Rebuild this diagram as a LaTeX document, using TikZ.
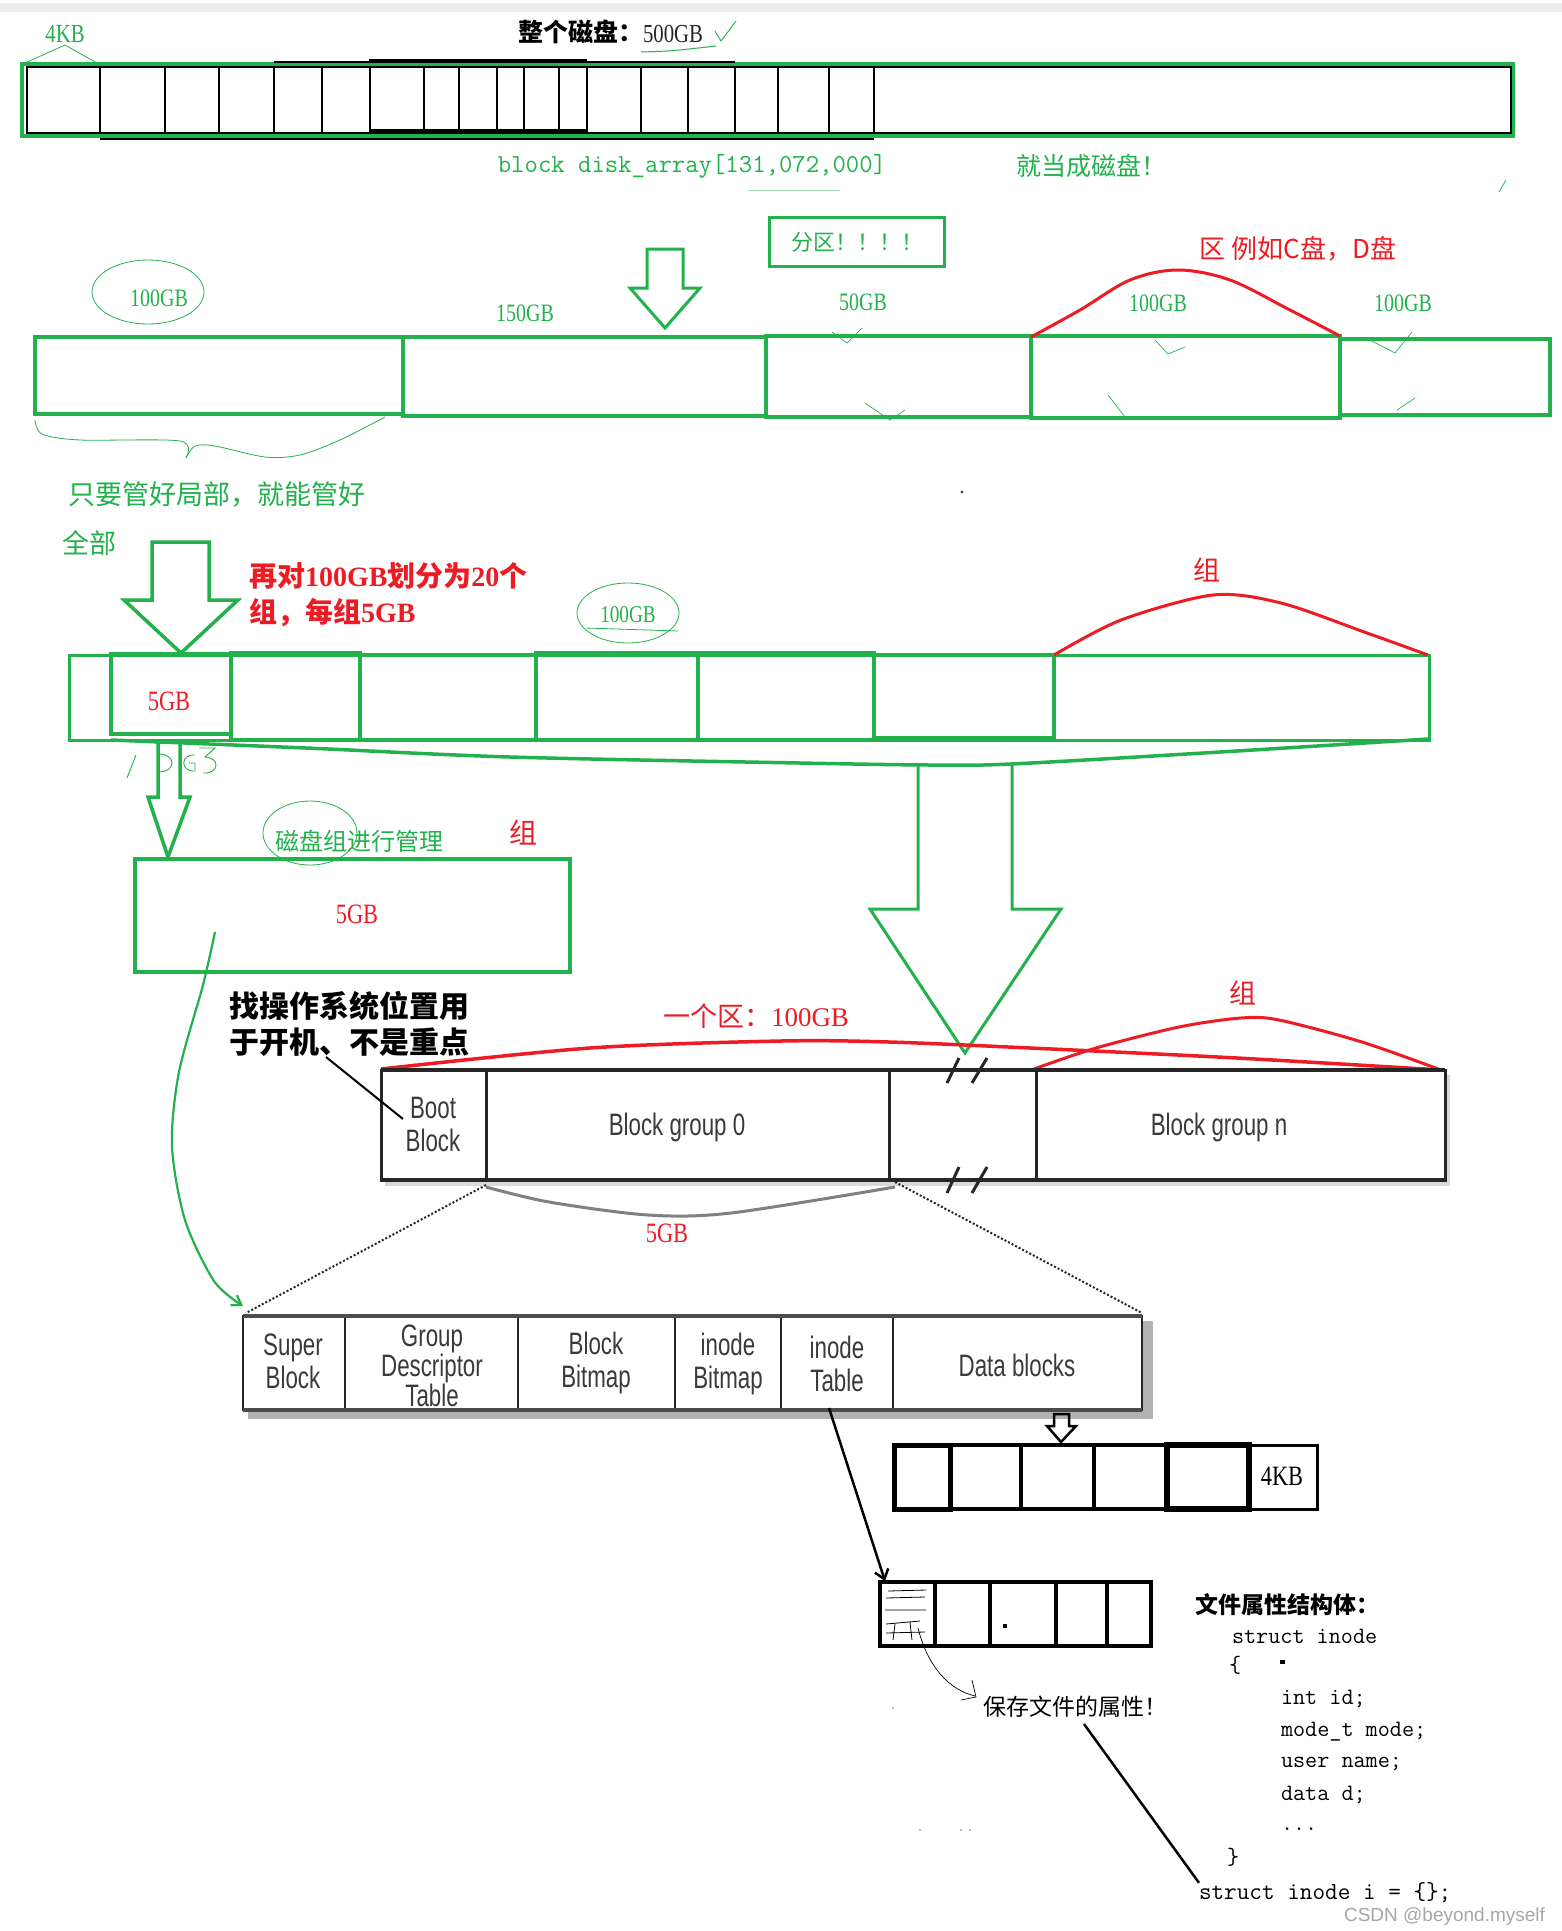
\documentclass[tikz,border=0pt]{standalone}
\usepackage{fontspec}
\setmainfont{Liberation Serif}
\newfontfamily\cjk{Noto Sans CJK SC}
\newfontfamily\nser{Liberation Serif}[FakeStretch=0.8]
\newfontfamily\csans{Liberation Sans}[FakeStretch=0.72]
\newfontfamily\wsans{Liberation Sans}
\usetikzlibrary{arrows.meta,fit}
\definecolor{pg}{HTML}{22B14C}
\definecolor{pr}{HTML}{ED1C24}
\definecolor{dk}{HTML}{262626}
\definecolor{tg}{HTML}{3A3A3A}
\newcommand\fs[2]{\fontsize{#1}{#2}\selectfont}
\begin{document}
\begin{tikzpicture}[x=1pt,y=-1pt,
  fitb/.style={inner sep=0pt, outer sep=0pt},
  gb/.style={fitb, draw=pg},
  kb/.style={fitb, draw=black},
  db/.style={fitb, draw=dk},
  tx/.style={inner sep=0pt, outer sep=0pt},
  glbl/.style={tx, text=pg, font=\nser\fs{25}{30}},
  rlbl/.style={tx, text=pr, font=\nser\fs{28}{30}},
  blk/.style={tx, text=tg, font=\csans\fs{31}{33}, align=center},
  code/.style={tx, anchor=west, font=\ttfamily\fs{23.5}{26}},
  tick/.style={pg, line width=0.7}]
\fill[white] (0,0) rectangle (1562,1931);
\useasboundingbox (0,0) rectangle (1562,1931);
\fill[black!7] (0,3) rectangle (1562,12);

% ---------------- whole disk ----------------
\node[gb, line width=4, fit={(22,64)(1513,136)}] (disk) {};
\node[kb, line width=2, fit={(27,67)(1511,133)}] (diskin) {};
\foreach \x in {100,165,219,274,322,370,424,459,497,524,559,587,641,688,735,778,829,874}
  \draw[line width=2] (\x,67) -- (\x,133);
\draw[line width=2] (274,61.5) -- (735,61.5);
\draw[line width=2] (369,60) -- (587,60);
\draw[line width=2] (100,138.5) -- (874,138.5);
\draw[line width=3] (370,130.5) -- (587,130.5);
\node[tx, text=pg, font=\nser\fs{26}{30}] (kbl) at (65,34) {4KB};
\draw[pg, line width=0.8] (25,63) -- (65,45) -- (97,63);
\node[tx, anchor=east, font=\cjk\bfseries\fs{25}{30}] (ttl) at (643,32) {整个磁盘：};
\node[tx, anchor=west, text=dk, font=\nser\fs{26}{30}] (ttlb) at (643,34) {500GB};
\draw[pg, line width=0.9] (715,31) -- (721,41) -- (736,21);
\draw[pg, line width=1] (641,52) .. controls (672,51) .. (716,46);
\node[tx, text=pg, font=\ttfamily\fs{26}{30}] (arr) at (692,166) {block disk\_array[131,072,000]};
\node[tx, text=pg, font=\cjk\fs{25}{30}] (asdisk) at (1091,166) {就当成磁盘！};
\draw[pg!40, line width=1] (748,190) -- (840,190);
\draw[tick] (1506,180) -- (1499,192);

% ---------------- partitions ----------------
\node[gb, line width=3.5, minimum width=175, minimum height=49, text=pg, font=\cjk\fs{22}{26}] (fenqu) at (857,242) {分区！！！！};
\draw[pg, line width=3, line join=miter] (647,249) -- (683,249) -- (683,288) -- (700,288) -- (665,328) -- (630,288) -- (647,288) -- cycle;
\node[gb, line width=4.5, fit={(35,337)(403,414)}] (p1) {};
\node[gb, line width=4.5, fit={(403,337)(766,416)}] (p2) {};
\node[gb, line width=4.5, fit={(766,336)(1031,417)}] (p3) {};
\node[gb, line width=4.5, fit={(1031,336)(1340,418)}] (p4) {};
\node[gb, line width=4, fit={(1340,339)(1550,415)}] (p5) {};
\node[glbl] (l100a) at (159,298) {100GB};
\draw[pg, line width=0.8] (148,292) ellipse [x radius=56, y radius=32];
\node[glbl] (l150) at (525,313) {150GB};
\node[glbl] (l50) at (863,302) {50GB};
\node[glbl] (l100b) at (1158,303) {100GB};
\node[glbl] (l100c) at (1403,303) {100GB};
\draw[tick] (832,332) -- (847,343) -- (862,328);
\draw[tick] (1155,340) -- (1168,354) -- (1185,347);
\draw[tick] (1370,340) -- (1395,353) -- (1412,332);
\draw[tick] (865,403) -- (890,420) -- (905,410);
\draw[tick] (1108,395) -- (1125,417);
\draw[tick] (1397,410) -- (1415,398);
\draw[pr, line width=3] plot[smooth, tension=0.55] coordinates {(1031,337)(1080,310)(1130,280)(1178,270)(1230,280)(1290,310)(1340,336)};
\node[tx, text=pr, font=\cjk\fs{26}{30}] (cd) at (1298,249) {区 例如C盘，D盘};
\draw[pg, line width=0.8] plot[smooth] coordinates {(35,420)(42,434)(80,440)(180,441)(186,458)};
\draw[pg, line width=0.8] plot[smooth] coordinates {(186,458)(195,446)(215,446)(265,457)(300,455)(340,440)(385,417)};
\node[tx, text=pg, font=\cjk\fs{27}{30}] (local) at (217,495) {只要管好局部，就能管好};
\node[tx, text=pg, font=\cjk\fs{27}{30}] (all) at (89,543) {全部};
\fill[dk] (962,492) circle (1.3);

% ---------------- groups ----------------
\draw[pg, line width=3.5, line join=miter] (152,542) -- (209,542) -- (209,600) -- (238,600) -- (181,653) -- (124,600) -- (152,600) -- cycle;
\node[tx, anchor=west, text=pr, font=\cjk\bfseries\fs{28}{30}] (re1) at (249,576) {再对{\rmfamily 100GB}划分为{\rmfamily 20}个};
\node[tx, anchor=west, text=pr, font=\cjk\bfseries\fs{28}{30}] (re2) at (249,613) {组，每组{\rmfamily 5GB}};
\node[tx, text=pg, font=\nser\fs{24}{30}] (l100d) at (628,615) {100GB};
\draw[pg, line width=0.8] (628,613) ellipse [x radius=51, y radius=30];
\draw[pg, line width=0.8] (586,628) -- (678,631);
\node[gb, line width=3, fit={(69,655)(1429,740)}] (gbar) {};
\node[gb, line width=4.5, fit={(111,654)(231,734)}] (g1) {};
\node[gb, line width=4.5, fit={(231,653)(360,740)}] (g2) {};
\node[gb, line width=3.5, fit={(360,655)(536,740)}] (g3) {};
\node[gb, line width=4, fit={(536,653)(698,740)}] (g4) {};
\node[gb, line width=4, fit={(698,653)(874,740)}] (g5) {};
\node[gb, line width=3.5, fit={(874,655)(1054,738)}] (g6) {};
\node[gb, line width=3, fit={(1054,655)(1429,740)}] (g7) {};
\node[rlbl] (g1l) at (169,701) {5GB};
\draw[pg, line width=3.5] plot[smooth, tension=0.5] coordinates {(111,740)(306,748)(510,757)(800,763)(930,765)(1011,764)(1220,752)(1428,739)};
\draw[pr, line width=3] plot[smooth] coordinates {(1054,655)(1121,620)(1213,595)(1281,603)(1367,633)(1428,655)};
\node[tx, text=pr, font=\cjk\fs{27}{30}] (zu1) at (1207,570) {组};
\draw[pg, line width=3, line join=miter] (918,764) -- (918,909) -- (870,909) -- (965,1053) -- (1061,909) -- (1012,909) -- (1012,764);
\draw[pg, line width=3.5, line join=miter] (158,742) -- (158,797) -- (148,797) -- (168,857) -- (190,797) -- (180,797) -- (180,742);
% handwritten scribble
\draw[pg, line width=0.9] (136,755) -- (127,778);
\draw[pg, line width=0.9] (160,754) .. controls (176,755) and (176,771) .. (160,772);
\draw[pg, line width=0.9] (195,755) .. controls (180,754) and (180,772) .. (195,771) -- (195,763) -- (189,763);
\draw[pg, line width=0.9] (199,748) -- (215,748) -- (205,757) .. controls (221,758) and (219,774) .. (203,773);

% ---------------- one group ----------------
\draw[pg, line width=0.8] (310,833) ellipse [x radius=47, y radius=32];
\node[tx, text=pg, font=\cjk\fs{24}{28}] (mgmt) at (359,841) {磁盘组进行管理};
\node[tx, text=pr, font=\cjk\fs{28}{30}] (zu2) at (523,833) {组};
\node[gb, line width=4, fit={(135,859)(570,972)}] (grp) {};
\node[rlbl] (grpl) at (357,914) {5GB};
\draw[pg, line width=2.2, -{Straight Barb[length=9pt,width=12pt]}] plot[smooth] coordinates {(215,932)(203,985)(179,1072)(172,1146)(185,1220)(214,1281)(243,1306)};

% ---------------- boot block bar ----------------
\node[tx, font=\cjk\bfseries\fs{30}{32}] (os1) at (349,1006) {找操作系统位置用};
\node[tx, font=\cjk\bfseries\fs{30}{32}] (os2) at (349,1042) {于开机、不是重点};
\node[tx, text=pr, font=\cjk\fs{27}{30}] (area) at (756,1016) {一个区：{\rmfamily 100GB}};
\draw[pr, line width=3.5] plot[smooth] coordinates {(381,1069)(590,1048)(781,1041)(889,1042)(1030,1048)(1237,1058)(1441,1070)};
\draw[pr, line width=3] plot[smooth] coordinates {(1034,1069)(1096,1048)(1179,1027)(1241,1018)(1279,1020)(1362,1042)(1441,1070)};
\node[tx, text=pr, font=\cjk\fs{27}{30}] (zu3) at (1243,993) {组};
\fill[black!15] (385,1075) rectangle (1450,1186);
\fill[white] (381,1070) rectangle (1445,1180);
\node[db, line width=3, fit={(381,1070)(486,1180)}] (boot) {};
\node[db, line width=3, fit={(486,1070)(889,1180)}] (bg0) {};
\node[db, line width=3, fit={(889,1070)(1036,1180)}] (gap) {};
\node[db, line width=3, fit={(1036,1070)(1445,1180)}] (bgn) {};
\draw[dk, line width=4.5] (381,1070) -- (1445,1070) (381,1180) -- (1445,1180);
\draw[dk, line width=3] (947,1083) -- (959,1058) (972,1083) -- (987,1058);
\draw[dk, line width=3] (947,1193) -- (959,1167) (972,1193) -- (987,1167);
\node[blk] at (433,1124) {Boot\\Block};
\node[blk] at (677,1127) {Block group 0};
\node[blk] at (1219,1127) {Block group n};
\draw[line width=2] (326,1057) -- (403,1119);
\draw[black!50, line width=3] plot[smooth] coordinates {(486,1187)(549,1202)(648,1215)(731,1213)(895,1187)};
\node[rlbl] (bgl) at (667,1233) {5GB};
\draw[dk, line width=2, dash pattern=on 2pt off 2pt] (486,1185) -- (246,1313);
\draw[dk, line width=2, dash pattern=on 2pt off 2pt] (895,1182) -- (1142,1313);

% ---------------- group layout ----------------
\fill[black!30] (248,1321) rectangle (1153,1419);
\fill[white] (243,1316) rectangle (1142,1410);
\node[db, line width=2.5, fit={(243,1316)(345,1410)}] (sb) {};
\node[db, line width=2.5, fit={(345,1316)(518,1410)}] (gdt) {};
\node[db, line width=2.5, fit={(518,1316)(675,1410)}] (bbm) {};
\node[db, line width=2.5, fit={(675,1316)(781,1410)}] (ibm) {};
\node[db, line width=2.5, fit={(781,1316)(893,1410)}] (itab) {};
\node[db, line width=2.5, fit={(893,1316)(1142,1410)}] (data) {};
\draw[black!70, line width=4] (243,1316) -- (1142,1316) (243,1410) -- (1142,1410);
\node[blk] at (293,1361) {Super\\Block};
\node[blk, font=\csans\fs{31}{30}] at (432,1366) {Group\\Descriptor\\Table};
\node[blk] at (596,1363) {Block\\Bitmap};
\node[blk] at (728,1364) {inode\\Bitmap};
\node[blk] at (837,1364) {inode\\Table};
\node[blk] at (1017,1365) {Data blocks};

% ---------------- data blocks ----------------
\draw[line width=2.5, line join=miter] (1054,1414) -- (1069,1414) -- (1069,1426) -- (1076,1426) -- (1061,1442) -- (1047,1426) -- (1054,1426) -- cycle;
\node[kb, line width=5, fit={(894,1445)(950,1509)}] (d1) {};
\node[kb, line width=4, fit={(950,1445)(1021,1509)}] (d2) {};
\node[kb, line width=4, fit={(1021,1445)(1094,1509)}] (d3) {};
\node[kb, line width=4, fit={(1094,1445)(1167,1509)}] (d4) {};
\node[kb, line width=6, fit={(1167,1445)(1249,1509)}] (d5) {};
\node[kb, line width=3, fit={(1249,1445)(1317,1509)}] (d6) {};
\node[tx, font=\nser\fs{28}{30}] (kb4) at (1282,1476) {4KB};

% ---------------- inode table ----------------
\node[kb, line width=4.5, fit={(880,1582)(935,1646)}] (i1) {};
\node[kb, line width=4.5, fit={(935,1582)(990,1646)}] (i2) {};
\node[kb, line width=4.5, fit={(990,1582)(1056,1646)}] (i3) {};
\node[kb, line width=4.5, fit={(1056,1582)(1107,1646)}] (i4) {};
\node[kb, line width=3.5, fit={(1107,1582)(1151,1646)}] (i5) {};
\draw[line width=0.8] (888,1591) -- (926,1590) (886,1598) -- (925,1597) (885,1610) -- (926,1610) (886,1624) -- (920,1621) (886,1633) -- (925,1632) (895,1624) -- (893,1640) (910,1622) -- (912,1640);
\fill (1003,1624) rectangle (1007,1628);
\draw[line width=2.5, -{Straight Barb[length=9pt,width=14pt]}] (829,1408) -- (885,1581);
\draw[line width=0.7] (918,1628) .. controls (928,1668) and (950,1690) .. (975,1696);
\draw[line width=0.7] (961,1700) -- (976,1697) -- (972,1680);
\node[tx, font=\cjk\fs{23}{26}] (save) at (1075,1707) {保存文件的属性！};
\node[tx, font=\cjk\bfseries\fs{23}{26}] (attr) at (1287,1605) {文件属性结构体：};
\node[code] (c1) at (1232,1636) {struct inode};
\node[code] (c2) at (1229,1665) {\{};
\fill (1280,1660) rectangle (1285,1664);
\node[code] (c3) at (1281,1699) {int id;};
\node[code] (c4) at (1281,1732) {mode\_t mode;};
\node[code] (c5) at (1281,1764) {user name;};
\node[code] (c6) at (1281,1795) {data d;};
\node[code] (c7) at (1281,1829) {...};
\node[code] (c8) at (1227,1857) {\}};
\node[code, font=\ttfamily\fs{24.5}{26}] (inst) at (1199,1893) {struct inode i = \{\};};
\draw[line width=2.5] (1084,1724) -- (inst.north west);
\fill[black!40] (920,1830) circle (1) (961,1830) circle (1) (970,1830) circle (1) (893,1708) circle (1);
\node[tx, anchor=east, text=black!35, font=\wsans\fs{19}{22}] (wm) at (1545,1917) {CSDN @beyond.myself};
\end{tikzpicture}
\end{document}
